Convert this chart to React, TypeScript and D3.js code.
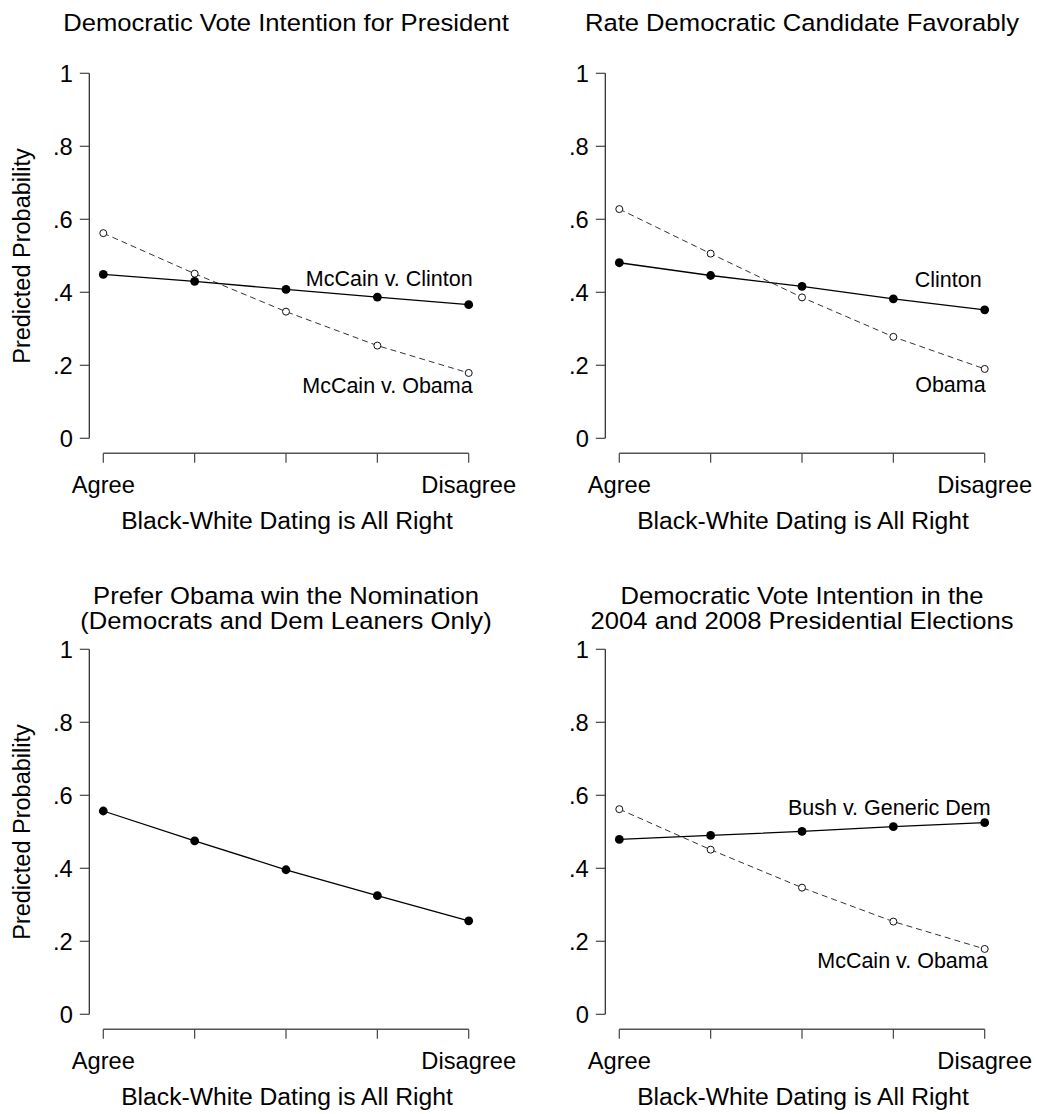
import React from "react";
import * as d3 from "d3";

const categories = ["Agree", "", "", "", "Disagree"];
const yTicks = [0, 0.2, 0.4, 0.6, 0.8, 1];
const yTickLabels = ["0", ".2", ".4", ".6", ".8", "1"];

const voteClinton = [0.449, 0.43, 0.408, 0.387, 0.366];
const voteObama = [0.562, 0.451, 0.347, 0.254, 0.179];
const favClinton = [0.481, 0.446, 0.416, 0.382, 0.352];
const favObama = [0.628, 0.506, 0.386, 0.278, 0.19];
const nomObama = [0.557, 0.475, 0.396, 0.325, 0.256];
const bushGeneric = [0.479, 0.49, 0.501, 0.514, 0.525];

const xTitle = "Black-White Dating is All Right";
const yTitle = "Predicted Probability";

type Series = { values: number[]; dashed: boolean; label: string; labelY: number; labelDx: number };
type Panel = { title: string[]; ox: number; oy: number; yTitle: boolean; series: Series[] };

const panels: Panel[] = [
  {
    title: ["Democratic Vote Intention for President"],
    ox: 0, oy: 0, yTitle: true,
    series: [
      { values: voteObama, dashed: true, label: "McCain v. Obama", labelY: 0.125, labelDx: 4 },
      { values: voteClinton, dashed: false, label: "McCain v. Clinton", labelY: 0.418, labelDx: 4 },
    ],
  },
  {
    title: ["Rate Democratic Candidate Favorably"],
    ox: 516, oy: 0, yTitle: false,
    series: [
      { values: favObama, dashed: true, label: "Obama", labelY: 0.126, labelDx: 1 },
      { values: favClinton, dashed: false, label: "Clinton", labelY: 0.414, labelDx: -3 },
    ],
  },
  {
    title: ["Prefer Obama win the Nomination", "(Democrats and Dem Leaners Only)"],
    ox: 0, oy: 576, yTitle: true,
    series: [{ values: nomObama, dashed: false, label: "", labelY: 0, labelDx: 0 }],
  },
  {
    title: ["Democratic Vote Intention in the", "2004 and 2008 Presidential Elections"],
    ox: 516, oy: 576, yTitle: false,
    series: [
      { values: voteObama, dashed: true, label: "McCain v. Obama", labelY: 0.126, labelDx: 3 },
      { values: bushGeneric, dashed: false, label: "Bush v. Generic Dem", labelY: 0.546, labelDx: 6 },
    ],
  },
];

const FONT = "'Liberation Sans', Arial, Helvetica, sans-serif";

function SText({ x, y, sx = 1, size, anchor = "middle", children }: any) {
  return (
    <text
      transform={`translate(${x},${y}) scale(${sx},1)`}
      textAnchor={anchor}
      fontSize={size}
      fontFamily={FONT}
      fill="#000"
    >
      {children}
    </text>
  );
}

function PanelView({ p }: { p: Panel }) {
  const x = d3.scaleLinear().domain([0, categories.length - 1]).range([103.3 + p.ox, 468.7 + p.ox]);
  const y = d3.scaleLinear().domain([0, 1]).range([438.3 + p.oy, 73.3 + p.oy]);
  const axisX = 89.3 + p.ox;
  const xAxisY = 453.3 + p.oy;
  const line = d3
    .line<number>()
    .x((_, i) => x(i))
    .y((d) => y(d));
  const cx = (x.range()[0] + x.range()[1]) / 2;
  const titleBase = p.title.length === 1 ? 30.7 + p.oy : 27.5 + p.oy;
  return (
    <g>
      {p.title.map((t, i) => (
        <SText key={i} x={cx} y={titleBase + i * 25.5} sx={1.09} size={23.5}>
          {t}
        </SText>
      ))}
      <line x1={axisX} x2={axisX} y1={y(0)} y2={y(1)} stroke="#222" strokeWidth={1.2} />
      {yTicks.map((t, i) => (
        <g key={i}>
          <line x1={axisX - 9.5} x2={axisX} y1={y(t)} y2={y(t)} stroke="#444" strokeWidth={1.2} />
          <SText x={axisX - 16.5} y={y(t) + 8.6} sx={1.03} size={23} anchor="end">
            {yTickLabels[i]}
          </SText>
        </g>
      ))}
      <line x1={x(0)} x2={x(categories.length - 1)} y1={xAxisY} y2={xAxisY} stroke="#555" strokeWidth={1.5} />
      {categories.map((c, i) => (
        <g key={i}>
          <line x1={x(i)} x2={x(i)} y1={xAxisY} y2={xAxisY + 9.5} stroke="#444" strokeWidth={1.2} />
          {c && (
            <SText x={x(i)} y={492.7 + p.oy} sx={1.03} size={23}>
              {c}
            </SText>
          )}
        </g>
      ))}
      <SText x={cx + 1} y={529 + p.oy} sx={1.05} size={23.5}>
        {xTitle}
      </SText>
      {p.yTitle && (
        <text
          transform={`translate(${30 + p.ox},${256 + p.oy}) rotate(-90)`}
          textAnchor="middle"
          fontSize={23.5}
          fontFamily={FONT}
          fill="#000"
        >
          {yTitle}
        </text>
      )}
      {p.series.map((s, si) => (
        <g key={si}>
          <path
            d={line(s.values) || ""}
            fill="none"
            stroke={s.dashed ? "#333" : "#000"}
            strokeWidth={s.dashed ? 1 : 1.3}
            strokeDasharray={s.dashed ? "6,4" : undefined}
          />
          {s.values.map((v, i) =>
            s.dashed ? (
              <circle key={i} cx={x(i)} cy={y(v)} r={3.5} fill="#fff" stroke="#111" strokeWidth={1} />
            ) : (
              <circle key={i} cx={x(i)} cy={y(v)} r={4.4} fill="#000" />
            )
          )}
          {s.label && (
            <text
              x={x(categories.length - 1) + s.labelDx}
              y={y(s.labelY)}
              textAnchor="end"
              fontSize={21.5}
              fontFamily={FONT}
              fill="#000"
            >
              {s.label}
            </text>
          )}
        </g>
      ))}
    </g>
  );
}

export default function App() {
  return (
    <svg
      width={1037}
      height={1114}
      viewBox="0 0 1037 1114"
      style={{ position: "absolute", left: 0, top: 0, display: "block", background: "#fff" }}
    >
      <rect x={0} y={0} width={1037} height={1114} fill="#fff" />
      {panels.map((p, i) => (
        <PanelView key={i} p={p} />
      ))}
    </svg>
  );
}
